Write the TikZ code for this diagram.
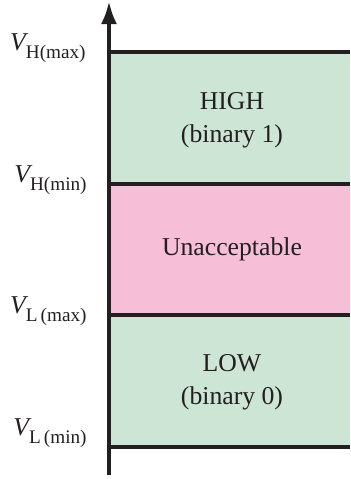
\documentclass[tikz,border=0pt]{standalone}
\usepackage{fontspec}
\setmainfont{Liberation Serif}
\usetikzlibrary{arrows.meta,positioning}
\definecolor{LvlGreen}{HTML}{CCE5D5}
\definecolor{LvlPink}{HTML}{F7BED8}
\definecolor{LvlInk}{HTML}{231F20}
\newcommand{\vlevel}[1]{{\itshape V}\raisebox{-4pt}{\fontsize{9.6}{12}\selectfont #1}}

\begin{document}
\begin{tikzpicture}[
  x=0.5pt,y=-0.5pt,
  level/.style={line width=2pt,draw=LvlInk},
  lbl/.style={anchor=base east,inner sep=0pt,text=LvlInk,font=\fontsize{12.85}{15}\selectfont},
  zone/.style={align=center,inner sep=0pt,text=LvlInk,font=\fontsize{12.85}{16.5}\selectfont},
  axis/.style={-{Latex[length=11.5pt,width=8pt]},line width=2pt,draw=LvlInk}
]
\useasboundingbox (0,0) rectangle (350,479);
% bands
\fill[LvlGreen] (109,52) rectangle (350,184);
\fill[LvlPink] (109,184) rectangle (350,315);
\fill[LvlGreen] (109,315) rectangle (350,447);
% level lines
\coordinate (hmax) at (109,52);  \coordinate (hmaxR) at (350,52);
\coordinate (hmin) at (109,184); \coordinate (hminR) at (350,184);
\coordinate (lmax) at (109,315); \coordinate (lmaxR) at (350,315);
\coordinate (lmin) at (109,447); \coordinate (lminR) at (350,447);
\draw[level] (hmax) -- (hmaxR);
\draw[level] (hmin) -- (hminR);
\draw[level] (lmax) -- (lmaxR);
\draw[level] (lmin) -- (lminR);
% axis
\coordinate (base) at (109,475);
\coordinate (top) at (109,1);
\draw[axis] (base) -- (top);
% labels
\node[lbl] (vhmax) at (86,50) {\vlevel{H(max)}};
\node[lbl] (vhmin) at (87,182) {\vlevel{H(min)}};
\node[lbl] (vlmax) at (87,313) {\vlevel{L\,(max)}};
\node[lbl] (vlmin) at (87,435) {\vlevel{L\,(min)}};
\node[zone] (high) at (232,120) {HIGH\\(binary 1)};
\node[zone] (bad) at (232,249) {Unacceptable};
\node[zone] (low) at (232,382) {LOW\\(binary 0)};
\end{tikzpicture}
\end{document}
